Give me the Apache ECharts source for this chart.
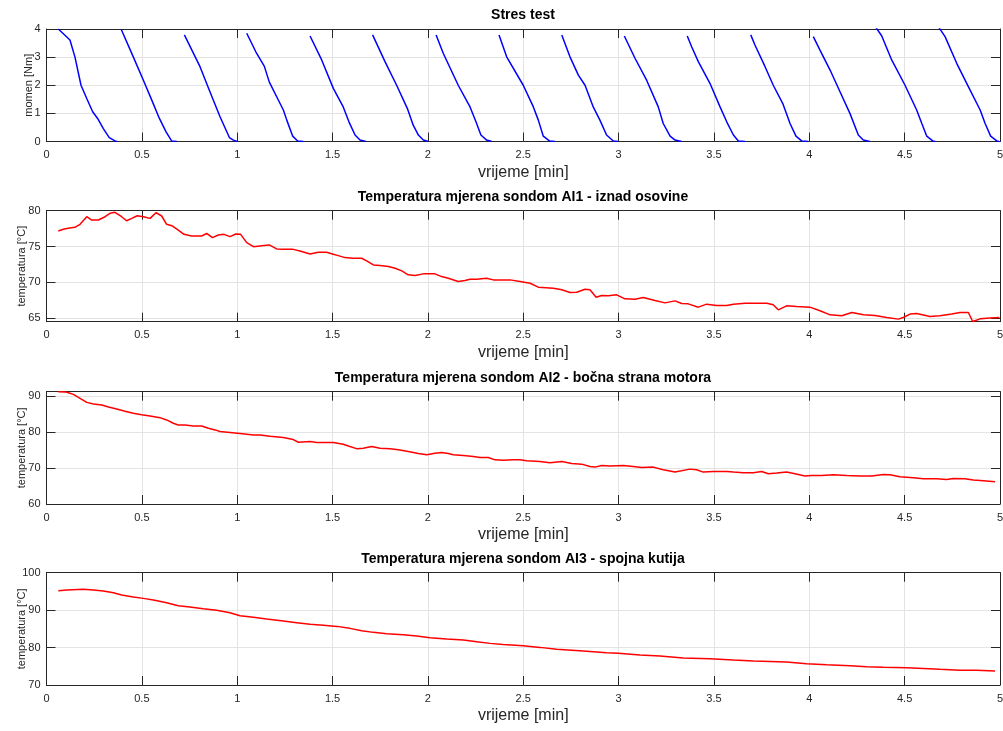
<!DOCTYPE html>
<html>
<head>
<meta charset="utf-8">
<script src="https://cdn.jsdelivr.net/npm/echarts@6/dist/echarts.min.js"></script>
<style>
html,body{margin:0;padding:0;background:#fff;}
#c{width:1003px;height:731px;}
</style>
</head>
<body>
<div id="c"></div>
<script>
// ---------- DATA ----------
const titles = [
  'Stres test',
  'Temperatura mjerena sondom AI1 - iznad osovine',
  'Temperatura mjerena sondom AI2 - bočna strana motora',
  'Temperatura mjerena sondom AI3 - spojna kutija'
];
const xAxisName = 'vrijeme [min]';
const yAxisNames = ['momen [Nm]', 'temperatura [°C]', 'temperatura [°C]', 'temperatura [°C]'];
const xTicks = [0, 0.5, 1, 1.5, 2, 2.5, 3, 3.5, 4, 4.5, 5];
const yTicks1 = [0, 1, 2, 3, 4];
const yTicks2 = [65, 70, 75, 80];
const yTicks3 = [60, 70, 80, 90];
const yTicks4 = [70, 80, 90, 100];
const yRanges = [[0, 4], [64.5, 80], [60, 91.3], [70, 100]];

// torque (null = gap between load cycles)
const torqueTime = [
  0.062,0.123,0.149,0.181,0.211,0.242,0.268,0.298,0.329,0.359,0.37,null,
  0.391,0.455,0.508,0.552,0.592,0.627,0.656,0.683,null,
  0.723,0.805,0.857,0.910,0.959,0.980,1.0,null,
  1.050,1.102,1.142,1.168,1.207,1.242,1.260,1.291,1.317,1.347,null,
  1.382,1.443,1.504,1.556,1.586,1.618,1.644,1.675,null,
  1.710,1.775,1.836,1.892,1.923,1.950,1.976,2.002,null,
  2.043,2.081,2.159,2.221,2.252,2.278,2.308,2.335,null,
  2.373,2.413,2.500,2.553,2.579,2.605,2.637,2.666,null,
  2.702,2.745,2.789,2.824,2.867,2.902,2.937,2.972,2.998,null,
  3.030,3.086,3.147,3.208,3.234,3.270,3.296,3.331,null,
  3.360,3.383,3.418,3.479,3.532,3.567,3.602,3.628,3.663,null,
  3.693,3.715,3.768,3.811,3.861,3.899,3.930,3.960,3.995,null,
  4.021,4.056,4.109,4.161,4.213,4.257,4.283,4.318,null,
  4.345,4.380,4.432,4.502,4.563,4.590,4.616,4.647,4.66,null,
  4.675,4.712,4.773,4.834,4.896,4.922,4.951,4.983,4.995
];
const torqueValue = [
  4.0,3.61,3.01,2.0,1.53,1.06,0.82,0.46,0.14,0.02,0,null,
  4.0,3.01,2.18,1.47,0.82,0.34,0.02,0,null,
  3.79,2.66,1.77,0.88,0.14,0.05,0,null,
  3.85,3.13,2.68,2.12,1.59,1.12,0.76,0.19,0.02,0,null,
  3.75,2.90,1.89,1.23,0.70,0.23,0.05,0,null,
  3.79,2.84,2.0,1.18,0.58,0.23,0.05,0,null,
  3.79,3.13,2.0,1.23,0.70,0.23,0.05,0,null,
  3.79,3.01,2.0,1.23,0.76,0.19,0.02,0,null,
  3.79,3.01,2.36,2.0,1.23,0.76,0.23,0.02,0,null,
  3.75,2.96,2.18,1.23,0.64,0.19,0.05,0,null,
  3.75,3.37,2.84,2.07,1.23,0.70,0.23,0.02,0,null,
  3.79,3.43,2.66,2.0,1.35,0.64,0.19,0.02,0,null,
  3.73,3.25,2.54,1.77,1.0,0.23,0.05,0,null,
  4.1,3.75,2.90,2.0,1.12,0.64,0.19,0.02,0,null,
  4.1,3.73,2.78,1.95,1.12,0.64,0.19,0.02,0
];

const ai1Time = [0.062,0.088,0.114,0.149,0.176,0.211,0.237,0.272,0.307,0.333,0.359,0.394,0.420,0.447,0.476,0.508,0.543,0.574,0.604,0.630,0.661,0.691,0.721,0.761,0.814,0.840,0.870,0.901,0.931,0.962,0.993,1.018,1.050,1.085,1.128,1.168,1.207,1.242,1.294,1.329,1.382,1.425,1.469,1.504,1.530,1.565,1.609,1.653,1.679,1.714,1.749,1.793,1.828,1.863,1.897,1.932,1.976,2.037,2.072,2.107,2.159,2.194,2.221,2.256,2.308,2.343,2.390,2.431,2.483,2.536,2.579,2.658,2.702,2.745,2.780,2.824,2.850,2.882,2.911,2.946,2.990,3.033,3.086,3.129,3.191,3.243,3.296,3.331,3.365,3.418,3.462,3.514,3.567,3.602,3.663,3.724,3.777,3.811,3.837,3.881,3.934,4.003,4.056,4.109,4.170,4.223,4.284,4.345,4.406,4.467,4.493,4.528,4.563,4.633,4.685,4.747,4.790,4.834,4.857,4.896,4.948,4.997];
const ai1Value = [77.17,77.4,77.54,77.68,78.1,79.16,78.7,78.7,79.16,79.63,79.77,79.16,78.6,78.93,79.3,79.16,78.93,79.72,79.26,78.1,77.86,77.3,76.7,76.47,76.47,76.84,76.24,76.6,76.7,76.38,76.75,76.7,75.54,74.98,75.12,75.22,74.66,74.6,74.6,74.38,73.96,74.19,74.19,73.92,73.73,73.45,73.36,73.36,72.99,72.43,72.34,72.2,71.96,71.59,71.04,70.94,71.18,71.18,70.8,70.57,70.11,70.25,70.43,70.43,70.57,70.34,70.34,70.34,70.11,69.87,69.32,69.18,68.95,68.57,68.62,69.04,68.95,67.92,68.16,68.11,68.25,67.69,67.65,67.88,67.46,67.13,67.41,67.04,66.99,66.53,66.95,66.76,66.76,66.95,67.09,67.09,67.09,66.86,66.16,66.72,66.62,66.53,66.02,65.46,65.32,65.79,65.46,65.37,65.09,64.86,65.09,65.56,65.65,65.23,65.32,65.56,65.79,65.79,64.53,64.9,65.0,65.09];

const ai2Time = [0.062,0.100,0.115,0.141,0.176,0.211,0.246,0.290,0.325,0.368,0.412,0.455,0.499,0.543,0.595,0.630,0.665,0.691,0.726,0.770,0.814,0.849,0.884,0.910,0.962,1.015,1.085,1.120,1.172,1.242,1.294,1.321,1.382,1.417,1.504,1.556,1.591,1.630,1.661,1.705,1.749,1.801,1.845,1.897,1.950,1.994,2.037,2.072,2.107,2.133,2.186,2.238,2.273,2.317,2.352,2.395,2.448,2.483,2.518,2.588,2.640,2.702,2.754,2.806,2.850,2.876,2.911,2.955,3.025,3.077,3.121,3.182,3.234,3.296,3.374,3.409,3.444,3.497,3.567,3.602,3.654,3.707,3.750,3.785,3.829,3.881,3.925,3.977,4.012,4.065,4.126,4.196,4.266,4.327,4.388,4.423,4.475,4.545,4.598,4.668,4.720,4.755,4.816,4.860,4.913,4.974];
const ai2Value = [91.3,91.25,91.0,90.56,89.44,88.33,87.87,87.6,87.04,86.48,85.83,85.28,84.9,84.54,84.07,83.43,82.5,82.04,82.04,81.76,81.76,81.11,80.65,80.19,79.91,79.63,79.26,79.26,78.89,78.52,77.96,77.22,77.41,77.13,77.13,76.67,76.02,75.37,75.56,76.02,75.56,75.37,75.09,74.63,74.07,73.7,74.17,74.35,74.07,73.7,73.52,73.24,72.96,72.96,72.31,72.2,72.31,72.31,72.04,71.85,71.48,71.85,71.3,71.11,70.46,70.28,70.74,70.56,70.74,70.46,70.19,70.28,69.54,68.89,69.72,69.54,68.89,69.07,69.07,68.89,68.7,68.7,69.07,68.43,68.61,68.89,68.43,67.78,67.96,67.96,68.15,67.96,67.78,67.78,68.24,68.15,67.59,67.31,67.04,67.04,66.85,67.13,67.04,66.67,66.48,66.2];

const ai3Time = [0.062,0.106,0.193,0.246,0.298,0.351,0.394,0.455,0.508,0.560,0.630,0.691,0.752,0.822,0.892,0.962,1.015,1.085,1.154,1.242,1.312,1.382,1.452,1.522,1.591,1.653,1.714,1.784,1.871,1.941,2.011,2.098,2.186,2.256,2.326,2.395,2.500,2.588,2.675,2.815,2.937,2.998,3.112,3.217,3.339,3.479,3.602,3.707,3.881,3.986,4.091,4.214,4.301,4.388,4.510,4.598,4.685,4.790,4.877,4.974];
const ai3Value = [95.19,95.37,95.55,95.37,95.1,94.66,94.03,93.5,93.14,92.7,91.99,91.18,90.83,90.38,89.94,89.31,88.51,88.07,87.62,87.09,86.64,86.2,85.93,85.66,85.13,84.51,84.06,83.7,83.44,83.08,82.64,82.28,82.01,81.57,81.12,80.85,80.5,80.05,79.52,79.07,78.63,78.45,78.0,77.74,77.2,77.03,76.67,76.4,76.13,75.69,75.42,75.16,74.89,74.71,74.62,74.44,74.18,73.91,73.91,73.73];

// ---------- CHART ----------
const FONT = 'Liberation Sans, Arial, Helvetica, sans-serif';
const DARK = '#262626';
const pair = (ts, vs) => ts.map((t, i) => (t === null ? ['-', '-'] : [t, vs[i]]));
const seriesData = [
  pair(torqueTime, torqueValue),
  pair(ai1Time, ai1Value),
  pair(ai2Time, ai2Value),
  pair(ai3Time, ai3Value)
];
const colors = ['#0000FF', '#FF0000', '#FF0000', '#FF0000'];
const yTickSets = [yTicks1, yTicks2, yTicks3, yTicks4];
const gridTops = [29, 210.7, 391.7, 572.7];
const gridHeights = [112.5, 111, 112.3, 112.3];
const yNameGaps = [12, 19, 19, 19];

const option = {
  animation: false,
  backgroundColor: '#fff',
  textStyle: { fontFamily: FONT },
  title: [], grid: [], xAxis: [], yAxis: [], series: []
};

for (let i = 0; i < 4; i++) {
  option.title.push({
    text: titles[i], left: 523, top: gridTops[i] - 21, textAlign: 'center', padding: 0,
    textStyle: { fontFamily: FONT, fontSize: 14, fontWeight: 'bold', color: '#000' }
  });
  option.grid.push({ left: 46.5, right: 3, top: gridTops[i], height: gridHeights[i],
    containLabel: false, outerBoundsMode: 'none' });
  const tickStyle = { show: true, inside: true, length: 9, lineStyle: { color: DARK, width: 1 } };
  // bottom x axis
  option.xAxis.push({
    type: 'value', gridIndex: i, min: 0, max: 5, position: 'bottom',
    axisTick: Object.assign({ customValues: xTicks }, tickStyle),
    axisLabel: { customValues: xTicks, color: DARK, fontSize: 11, fontFamily: FONT, margin: 8,
      formatter: v => String(v) },
    axisLine: { show: true, onZero: false, lineStyle: { color: DARK, width: 1 } },
    splitLine: { show: true, lineStyle: { color: '#E3E3E3', width: 1 } },
    name: xAxisName, nameLocation: 'middle', nameGap: 23, nameMoveOverlap: false,
    nameTextStyle: { fontSize: 16, color: DARK, fontFamily: FONT }
  });
  // top x axis (box)
  option.xAxis.push({
    type: 'value', gridIndex: i, min: 0, max: 5, position: 'top',
    axisTick: Object.assign({ customValues: xTicks }, tickStyle),
    axisLabel: { show: false },
    axisLine: { show: true, onZero: false, lineStyle: { color: DARK, width: 1 } },
    splitLine: { show: false }
  });
  // left y axis
  option.yAxis.push({
    type: 'value', gridIndex: i, min: yRanges[i][0], max: yRanges[i][1], position: 'left',
    axisTick: Object.assign({ customValues: yTickSets[i] }, tickStyle),
    axisLabel: { customValues: yTickSets[i], color: DARK, fontSize: 11, fontFamily: FONT, margin: 6 },
    axisLine: { show: true, onZero: false, lineStyle: { color: DARK, width: 1 } },
    splitLine: { show: true, lineStyle: { color: '#E3E3E3', width: 1 } },
    name: yAxisNames[i], nameLocation: 'middle', nameGap: yNameGaps[i], nameRotate: 90,
    nameMoveOverlap: false,
    nameTextStyle: { fontSize: 11, color: DARK, fontFamily: FONT }
  });
  // right y axis (box)
  option.yAxis.push({
    type: 'value', gridIndex: i, min: yRanges[i][0], max: yRanges[i][1], position: 'right',
    axisTick: Object.assign({ customValues: yTickSets[i] }, tickStyle),
    axisLabel: { show: false },
    axisLine: { show: true, onZero: false, lineStyle: { color: DARK, width: 1 } },
    splitLine: { show: false }
  });
  option.series.push({
    type: 'line', xAxisIndex: 2 * i, yAxisIndex: 2 * i,
    data: seriesData[i], showSymbol: false, symbol: 'none', connectNulls: false,
    lineStyle: { color: colors[i], width: 1.5 }, itemStyle: { color: colors[i] },
    clip: true, silent: true
  });
}

const chart = echarts.init(document.getElementById('c'), null, { renderer: 'canvas' });
chart.setOption(option);
</script>
</body>
</html>
